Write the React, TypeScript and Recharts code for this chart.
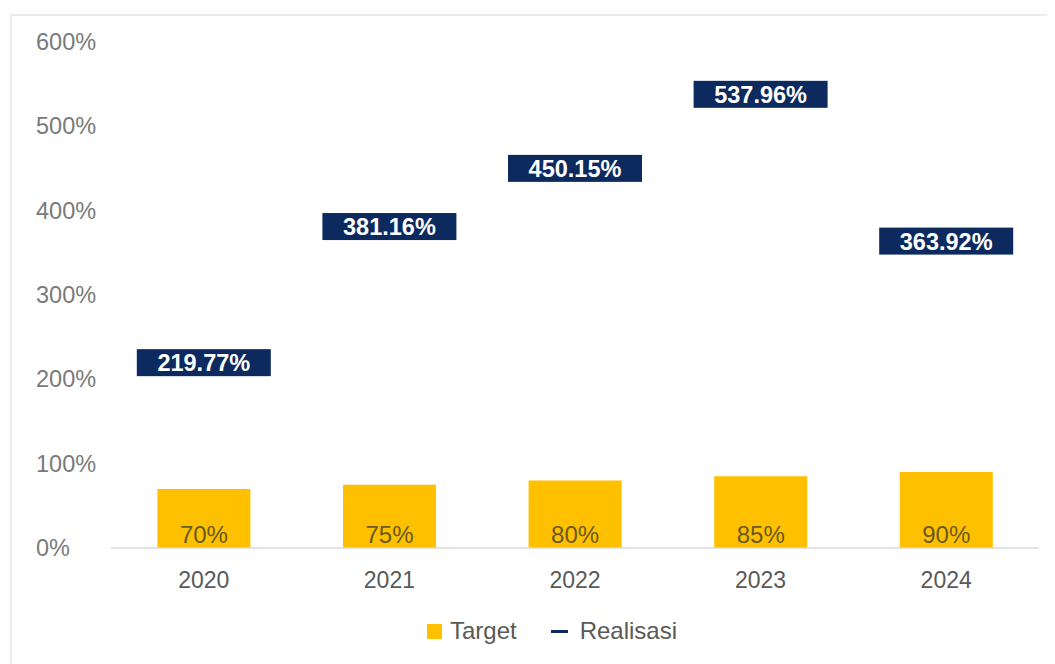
import React from 'react';
import { ComposedChart, Bar, Line, XAxis, YAxis, LabelList, Legend } from 'recharts';

const years = ['2020', '2021', '2022', '2023', '2024'];
const targetValues = [70, 75, 80, 85, 90];
const realisasiValues = [219.77, 381.16, 450.15, 537.96, 363.92];
const yTicks = [0, 100, 200, 300, 400, 500, 600];

const data = years.map((y, i) => ({ year: y, target: targetValues[i], realisasi: realisasiValues[i] }));

const FONT = '"Liberation Sans", Arial, sans-serif';
const NAVY = '#0c2a5e';
const GOLD = '#ffc000';

const YTick = (props: any) => {
  const { y, payload } = props;
  return (
    <text x={28} y={y} dy={8} textAnchor="start" fontSize={23.5} fill="#7a7a7a" fontFamily={FONT}>
      {payload.value}%
    </text>
  );
};

const XTick = (props: any) => {
  const { x, y, payload } = props;
  return (
    <text x={x} y={y} dy={38} textAnchor="middle" fontSize={23} fill="#595959" fontFamily={FONT}>
      {payload.value}
    </text>
  );
};

const RealLabel = (props: any) => {
  const { x, y, value } = props;
  const w = 134;
  const h = 27;
  return (
    <g>
      <rect x={x - w / 2} y={y - h / 2} width={w} height={h} fill={NAVY} />
      <text x={x} y={y} dy={8.5} textAnchor="middle" fontSize={23.5} fontWeight="bold" fill="#ffffff" fontFamily={FONT}>
        {Number(value).toFixed(2)}%
      </text>
    </g>
  );
};

const BarLabel = (props: any) => {
  const { x, y, width, height, value } = props;
  return (
    <text x={x + width / 2} y={y + height - 13} dy={8} textAnchor="middle" fontSize={24} fill="#6a5a22" fontFamily={FONT}>
      {value}%
    </text>
  );
};

const CustomLegend = () => (
  <div style={{ display: 'flex', justifyContent: 'center', alignItems: 'center', fontFamily: FONT, fontSize: 24, color: '#595959', height: 30 }}>
    <span style={{ display: 'inline-block', width: 15, height: 15, background: GOLD, marginRight: 8 }} />
    <span>Target</span>
    <span style={{ display: 'inline-block', width: 17, height: 3, background: NAVY, marginLeft: 34, marginRight: 12 }} />
    <span>Realisasi</span>
  </div>
);

export default function App() {
  return (
    <div style={{ position: 'relative', width: 1047, height: 656 }}>
      <div style={{ position: 'absolute', left: 2, top: 6, width: 1045, height: 650, borderTop: '2px solid #ebebeb', borderLeft: '2px solid #ebebeb' }} />
      <div style={{ position: 'absolute', left: 0, top: 0 }}>
        <ComposedChart
          width={1040}
          height={650}
          data={data}
          margin={{ top: 34, right: 9, bottom: 40, left: 0 }}
          barCategoryGap="25%"
        >
          <XAxis
            dataKey="year"
            axisLine={{ stroke: '#d9d9d9', strokeWidth: 1.5 }}
            tickLine={false}
            tickSize={0}
            tick={<XTick />}
            height={40}
          />
          <YAxis
            domain={[0, 600]}
            ticks={yTicks}
            axisLine={false}
            tickLine={false}
            width={103}
            tick={<YTick />}
          />
          <Legend
            content={<CustomLegend />}
            wrapperStyle={{ position: 'absolute', top: 608, left: 24, width: 1040 }}
          />
          <Bar dataKey="target" name="Target" fill={GOLD} isAnimationActive={false}>
            <LabelList dataKey="target" content={<BarLabel />} />
          </Bar>
          <Line
            dataKey="realisasi"
            name="Realisasi"
            stroke="none"
            dot={false}
            activeDot={false}
            isAnimationActive={false}
          >
            <LabelList dataKey="realisasi" content={<RealLabel />} />
          </Line>
        </ComposedChart>
      </div>
    </div>
  );
}
